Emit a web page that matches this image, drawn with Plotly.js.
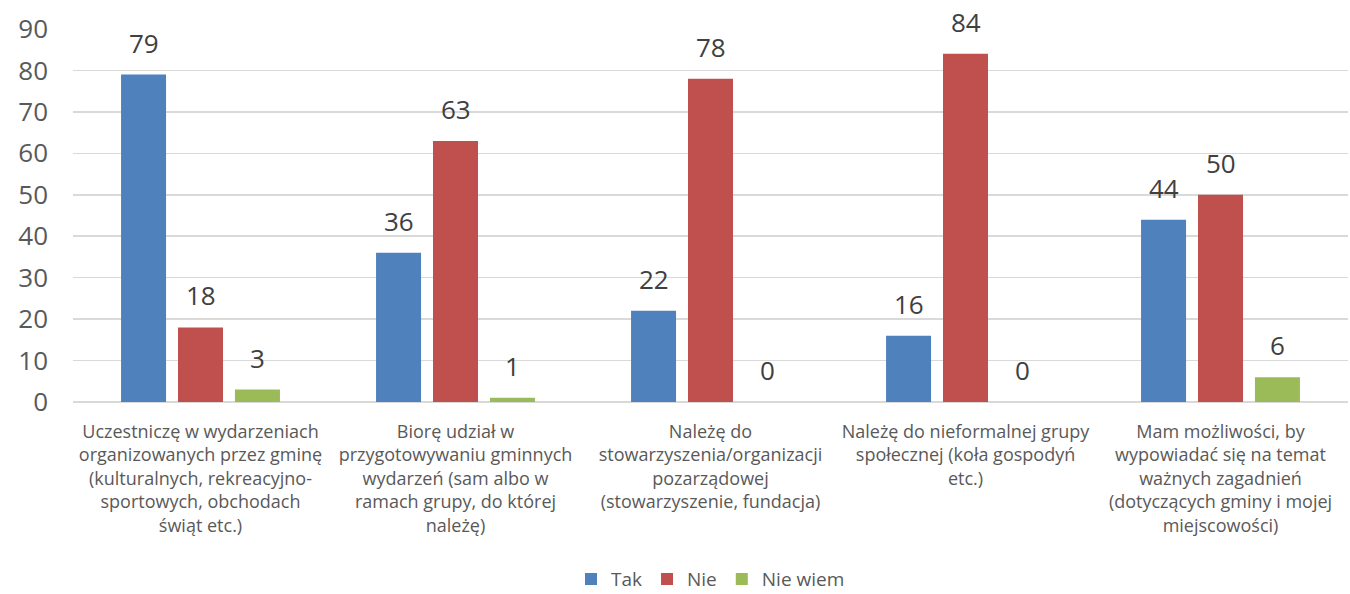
<!DOCTYPE html>
<html><head><meta charset="utf-8">
<script src="https://cdn.plot.ly/plotly-3.0.1.min.js"></script>
<style>html,body{margin:0;padding:0;background:#fff;}#chart{width:1350px;height:594px;}</style>
</head><body><div id="chart"></div>
<script>
const categories = [
  "Uczestniczę w wydarzeniach<br>organizowanych przez gminę<br>(kulturalnych, rekreacyjno-<br>sportowych, obchodach<br>świąt etc.)",
  "Biorę udział w<br>przygotowywaniu gminnych<br>wydarzeń (sam albo w<br>ramach grupy, do której<br>należę)",
  "Należę do<br>stowarzyszenia/organizacji<br>pozarządowej<br>(stowarzyszenie, fundacja)",
  "Należę do nieformalnej grupy<br>społecznej (koła gospodyń<br>etc.)",
  "Mam możliwości, by<br>wypowiadać się na temat<br>ważnych zagadnień<br>(dotyczących gminy i mojej<br>miejscowości)"
];
const seriesNames = ["Tak", "Nie", "Nie wiem"];
const tak = [79, 36, 22, 16, 44];
const nie = [18, 63, 78, 84, 50];
const nieWiem = [3, 1, 0, 0, 6];
const colors = ["#4f81bd", "#c0504d", "#9bbb59"];
const yTicks = [0, 10, 20, 30, 40, 50, 60, 70, 80, 90];

const FONT = "'Open Sans', sans-serif";
const W = 1350, H = 594;
const M = {l: 73, r: 2, t: 29, b: 192};
const BARGAP = 0.33, GROUPGAP = 0.21;
const allSeries = [tak, nie, nieWiem];

const traces = allSeries.map((vals, i) => ({
  type: "bar",
  name: seriesNames[i],
  x: categories,
  y: vals,
  marker: {color: colors[i]},
  hoverinfo: "none"
}));

// data labels as annotations, positioned by the axis scale
const catPx = (W - M.l - M.r) / categories.length;
const slotPx = catPx * (1 - BARGAP) / allSeries.length;
const annotations = [];
allSeries.forEach((vals, i) => {
  vals.forEach((v, j) => {
    annotations.push({
      x: categories[j], y: v, xref: "x", yref: "y",
      xshift: (i - (allSeries.length - 1) / 2) * slotPx,
      yshift: 12, yanchor: "bottom", showarrow: false,
      text: String(v),
      font: {size: 26, color: "#404040", family: FONT}
    });
  });
});

const layout = {
  width: W, height: H,
  margin: Object.assign({autoexpand: false}, M),
  paper_bgcolor: "#fff", plot_bgcolor: "#fff",
  font: {family: FONT, color: "#595959"},
  barmode: "group",
  bargap: BARGAP,
  bargroupgap: GROUPGAP,
  showlegend: true,
  legend: {orientation: "h", x: 0.5, xanchor: "center", y: -0.475, yanchor: "middle",
           font: {size: 19, color: "#595959"}, itemwidth: 30, traceorder: "normal",
           tracegroupgap: 0},
  annotations: annotations,
  xaxis: {tickfont: {size: 18, color: "#595959"}, showline: false, ticks: "", showgrid: false,
          ticklabelstandoff: 17, automargin: false},
  yaxis: {range: [0, 90], tickvals: yTicks, ticktext: yTicks.map(String),
          tickfont: {size: 26, color: "#595959"}, showgrid: true, gridcolor: "#d9d9d9", gridwidth: 1.5,
          zeroline: true, zerolinecolor: "#d9d9d9", zerolinewidth: 1.5, ticks: "",
          ticklabelstandoff: 24, automargin: false}
};
Plotly.newPlot("chart", traces, layout, {displayModeBar: false, staticPlot: true});
</script></body></html>
